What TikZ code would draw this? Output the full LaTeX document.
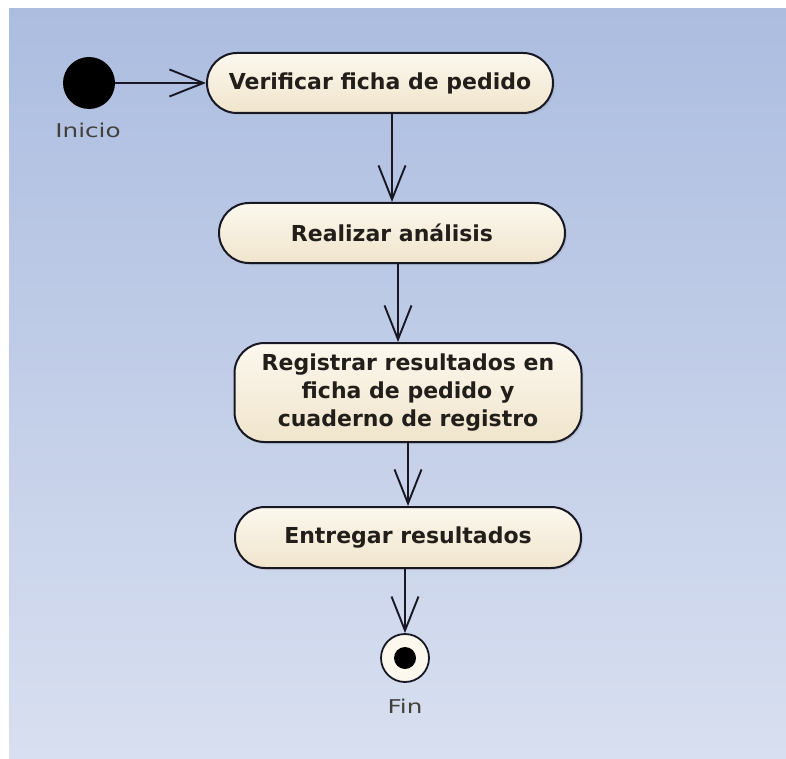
\documentclass[tikz,border=0pt]{standalone}
\usepackage{fontspec}
\setmainfont{DejaVu Sans}
\newfontfamily\lblfont{DejaVu Sans}[FakeStretch=1.3]
\usetikzlibrary{arrows.meta,shadows}
\definecolor{bgtop}{RGB}{172,189,224}
\definecolor{bgbot}{RGB}{216,223,240}
\definecolor{boxtop}{RGB}{252,248,238}
\definecolor{boxbot}{RGB}{240,228,204}
\definecolor{ink}{RGB}{24,24,36}
\definecolor{txt}{RGB}{34,30,26}
\tikzset{
  act/.style={draw=ink, line width=2pt, rounded corners=30pt,
    top color=boxtop, bottom color=boxbot, align=center, text=txt,
    font=\fontsize{22}{28}\selectfont\bfseries, inner sep=0pt,
    drop shadow={shadow xshift=2pt, shadow yshift=-2pt, opacity=0.18}},
  flow/.style={draw=ink, line width=1.9pt,
    -{Straight Barb[length=34pt,width=27pt,line width=1.9pt]}},
  lbl/.style={text=txt!85, font=\lblfont\fontsize{19}{22}\selectfont}
}
\begin{document}
\begin{tikzpicture}[x=1pt,y=-1pt]
\useasboundingbox (0,0) rectangle (786,759);
\fill[white] (0,0) rectangle (786,759);
\shade[top color=bgtop, bottom color=bgbot] (9,9) rectangle (786,759);

\node[circle, fill=black, minimum size=52pt, inner sep=0pt] (start) at (89,83) {};
\node[lbl] (startlbl) at (88,130) {Inicio};

\node[act, minimum width=346pt, minimum height=60pt] (ver) at (380,83) {Verificar ficha de pedido};
\node[act, minimum width=346pt, minimum height=60pt] (rea) at (392,233) {Realizar análisis};
\node[act, minimum width=347pt, minimum height=99pt] (reg) at (408,392.5) {Registrar resultados en\\ficha de pedido y\\cuaderno de registro};
\node[act, minimum width=346pt, minimum height=61pt] (ent) at (408,537.5) {Entregar resultados};

\node[circle, draw=ink, line width=1.8pt, fill=boxtop, minimum size=48pt, inner sep=0pt] (fin) at (405,658) {};
\node[circle, fill=black, minimum size=22pt, inner sep=0pt] (findot) at (fin.center) {};
\node[lbl] (finlbl) at (405,706) {Fin};

\draw[flow] (start.east) -- (ver.west);
\draw[flow] (ver.south -| rea.north) -- (rea.north);
\draw[flow] ([xshift=6pt]rea.south) -- ([xshift=6pt]rea.south |- reg.north);
\draw[flow] (reg.south -| ent.north) -- (ent.north);
\draw[flow] (ent.south -| fin.north) -- (fin.north);
\end{tikzpicture}
\end{document}
